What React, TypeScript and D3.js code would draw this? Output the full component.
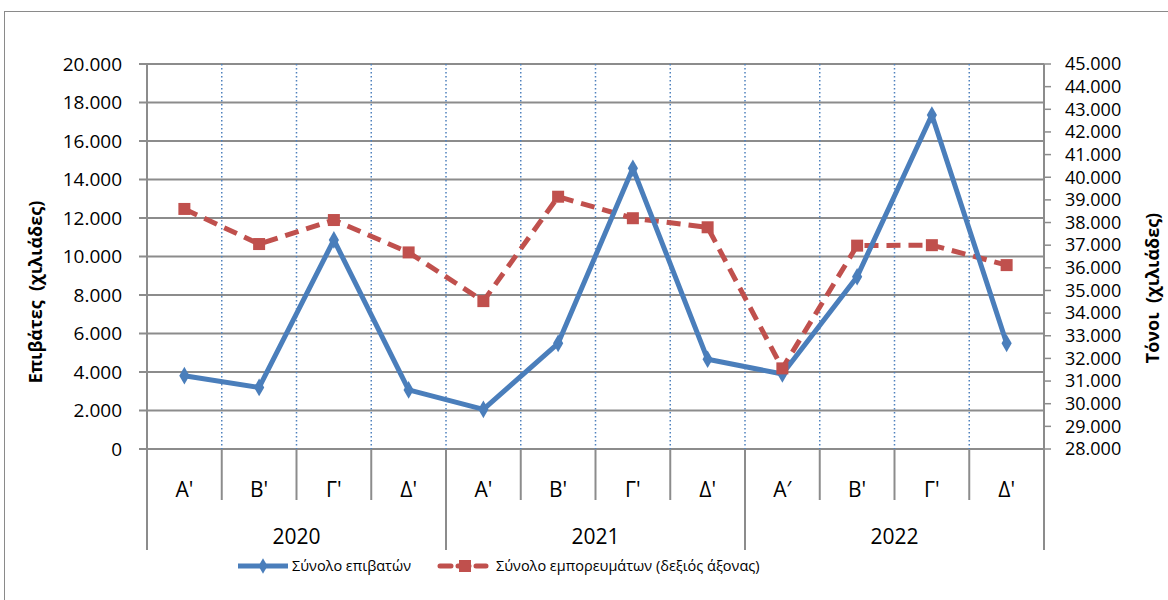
import React from "react";
import * as d3 from "d3";

// quarterly data 2020-2022
const years = ["2020", "2021", "2022"];
const quarters = ["Α'", "Β'", "Γ'", "Δ'", "Α'", "Β'", "Γ'", "Δ'", "Α′", "Β'", "Γ'", "Δ'"];
const passengers = [3810, 3200, 10860, 3070, 2060, 5490, 14580, 4660, 3900, 8950, 17350, 5490];
const cargo = [38600, 37050, 38110, 36680, 34530, 39140, 38190, 37790, 31560, 36980, 37000, 36120];
const leftTicks = [0, 2000, 4000, 6000, 8000, 10000, 12000, 14000, 16000, 18000, 20000];
const rightTicks = d3.range(28000, 45001, 1000);

const W = 1168;
const H = 600;
const margin = { left: 147, right: 1044, top: 64, bottom: 449 };
const font = "'Open Sans', 'Noto Sans', sans-serif";
const gridColor = "#8c8c8c";
const blue = "#4a7ebb";
const red = "#c0504d";

const fmt = d3
  .formatLocale({ decimal: ",", thousands: ".", grouping: [3], currency: ["", ""] })
  .format(",.0f");

const App = () => {
  const x = d3
    .scaleBand<number>()
    .domain(d3.range(quarters.length))
    .range([margin.left, margin.right]);
  const yL = d3.scaleLinear().domain([0, 20000]).range([margin.bottom, margin.top]);
  const yR = d3.scaleLinear().domain([28000, 45000]).range([margin.bottom, margin.top]);
  const cx = (i: number) => (x(i) as number) + x.bandwidth() / 2;

  const blueLine = d3
    .line<number>()
    .x((d, i) => cx(i))
    .y((d) => yL(d));
  const redLine = d3
    .line<number>()
    .x((d, i) => cx(i))
    .y((d) => yR(d));

  const step = x.bandwidth();

  return (
    <svg width={W} height={H} style={{ position: "absolute", left: 0, top: 0, background: "#fff" }}>
      <rect x={4.5} y={11.5} width={1300} height={800} fill="none" stroke="#8a8a8a" strokeWidth={1} />

      {/* horizontal grid */}
      {leftTicks.map((t) => (
        <line key={"g" + t} x1={margin.left - 8} x2={margin.right} y1={yL(t)} y2={yL(t)} stroke={gridColor} strokeWidth={2} />
      ))}
      {/* vertical dotted grid */}
      {d3.range(1, quarters.length).map((i) => (
        <line
          key={"v" + i}
          x1={x(i)}
          x2={x(i)}
          y1={margin.top}
          y2={margin.bottom}
          stroke="#4f81bd"
          strokeWidth={1.5}
          strokeDasharray="1.5 2.5"
        />
      ))}
      {/* category separators under axis */}
      {d3.range(1, quarters.length).map((i) => (
        <line
          key={"s" + i}
          x1={x(i)}
          x2={x(i)}
          y1={margin.bottom}
          y2={i % 4 === 0 ? 550 : 500}
          stroke={gridColor}
          strokeWidth={2}
        />
      ))}
      <line x1={margin.left} x2={margin.left} y1={margin.top} y2={550} stroke={gridColor} strokeWidth={2} />
      <line x1={margin.right} x2={margin.right} y1={margin.top} y2={550} stroke={gridColor} strokeWidth={2} />

      {/* right ticks */}
      {rightTicks.map((t) => (
        <line key={"r" + t} x1={margin.right} x2={margin.right + 7} y1={yR(t)} y2={yR(t)} stroke={gridColor} strokeWidth={1.5} />
      ))}

      {/* left tick labels */}
      {leftTicks.map((t) => (
        <text key={"lt" + t} x={122} y={yL(t)} dy="0.35em" textAnchor="end" fontFamily={font} fontSize={19}>
          {fmt(t)}
        </text>
      ))}
      {rightTicks.map((t) => (
        <text key={"rt" + t} x={1065} y={yR(t)} dy="0.35em" textAnchor="start" fontFamily={font} fontSize={18}>
          {fmt(t)}
        </text>
      ))}

      {/* category labels */}
      {quarters.map((q, i) => (
        <text key={"q" + i} x={cx(i)} y={490} dy="0.35em" textAnchor="middle" fontFamily={font} fontSize={21}>
          {q}
        </text>
      ))}
      {years.map((yr, j) => (
        <text
          key={yr}
          x={(x(j * 4) as number) + step * 2}
          y={537}
          dy="0.35em"
          textAnchor="middle"
          fontFamily={font}
          fontSize={21}
        >
          {yr}
        </text>
      ))}

      {/* axis titles */}
      <text
        transform="translate(36,292) rotate(-90)"
        textAnchor="middle"
        dy="0.35em"
        fontFamily={font}
        fontSize={18}
        fontWeight="bold"
        style={{ whiteSpace: "pre" }}
      >
        {"Επιβάτες  (χιλιάδες)"}
      </text>
      <text
        transform="translate(1153,288) rotate(-90)"
        textAnchor="middle"
        dy="0.35em"
        fontFamily={font}
        fontSize={18}
        fontWeight="bold"
        style={{ whiteSpace: "pre" }}
      >
        {"Τόνοι  (χιλιάδες)"}
      </text>

      {/* series */}
      <path d={redLine(cargo) ?? ""} fill="none" stroke={red} strokeWidth={5} strokeDasharray="14 8" />
      <path d={blueLine(passengers) ?? ""} fill="none" stroke={blue} strokeWidth={5} strokeLinejoin="round" />
      {passengers.map((v, i) => (
        <path
          key={"bd" + i}
          d={d3.symbol(d3.symbolDiamond, 90)() ?? ""}
          transform={`translate(${cx(i)},${yL(v)})`}
          fill={blue}
        />
      ))}
      {cargo.map((v, i) => (
        <rect key={"rs" + i} x={cx(i) - 6} y={yR(v) - 6} width={12} height={12} fill={red} />
      ))}

      {/* legend */}
      <line x1={238} x2={288} y1={566} y2={566} stroke={blue} strokeWidth={5} />
      <path d={d3.symbol(d3.symbolDiamond, 70)() ?? ""} transform="translate(263,566)" fill={blue} />
      <text x={292} y={566} dy="0.35em" fontFamily={font} fontSize={14.5}>
        Σύνολο επιβατών
      </text>
      <line x1={440} x2={486} y1={566} y2={566} stroke={red} strokeWidth={5} strokeDasharray="11 7" strokeLinecap="round" />
      <rect x={459} y={560} width={12} height={12} fill={red} />
      <text x={496} y={566} dy="0.35em" fontFamily={font} fontSize={14.5}>
        Σύνολο εμπορευμάτων (δεξιός άξονας)
      </text>
    </svg>
  );
};

export default App;
